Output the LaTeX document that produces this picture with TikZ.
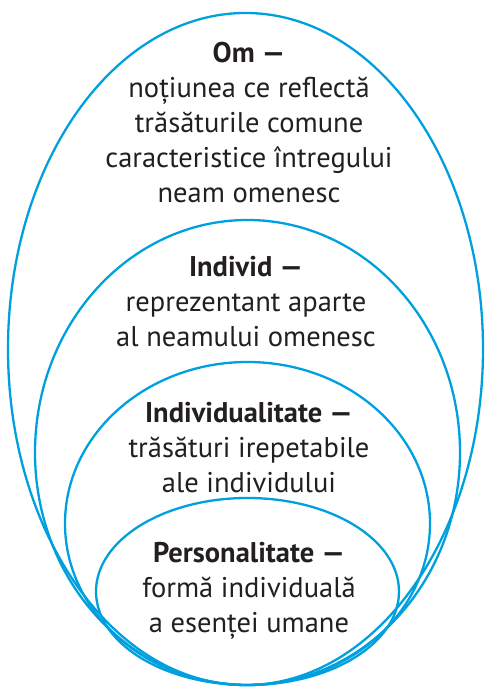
\documentclass[tikz,border=0pt]{standalone}
\usepackage{fontspec}
\setmainfont{PT Sans}
\usepackage{xcolor}
\usepackage{tikz}
\definecolor{ringblue}{RGB}{0,160,222}
\definecolor{inkgrey}{RGB}{35,31,32}
\tikzset{
  ring/.style={draw=ringblue, line width=2.3pt},
  ovaltext/.style={align=center, text=inkgrey, inner sep=0pt, anchor=base,
    font={\fontsize{28.5}{35}\selectfont}}
}

\begin{document}
\begin{tikzpicture}[x=1pt,y=1pt]

\useasboundingbox (0,0) rectangle (485,687);							% Rahmen

\draw[ring] (245.5,338) ellipse [x radius=237.5, y radius=336];			% Om
\draw[ring] (247.5,234.5) ellipse [x radius=212.5, y radius=232.5];		% Individ
\draw[ring] (247.5,163.5) ellipse [x radius=182.5, y radius=161.5];		% Individualitate
\draw[ring] (247.5,95.5) ellipse [x radius=151.5, y radius=93.5];		% Personalitate

\node[ovaltext] (om) at (249,484) {\textbf{Om —}\\noțiunea ce reflectă\\trăsăturile comune\\caracteristice întregului\\neam omenesc};
\node[ovaltext] (individ) at (246,340) {\textbf{Individ —}\\reprezentant aparte\\al neamului omenesc};
\node[ovaltext] (individualitate) at (249,194) {\textbf{Individualitate —}\\trăsături irepetabile\\ale individului};
\node[ovaltext] (personalitate) at (249,54) {\textbf{Personalitate —}\\formă individuală\\a esenței umane};

\end{tikzpicture}
\end{document}
